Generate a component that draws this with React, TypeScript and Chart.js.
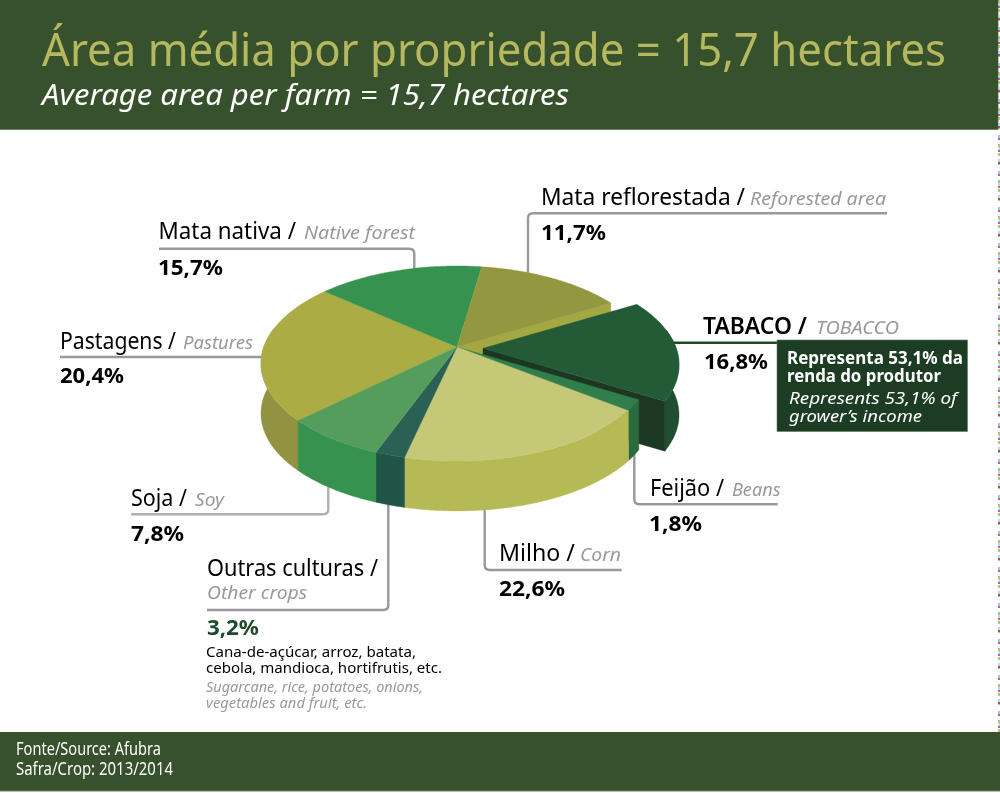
import React, { useEffect, useRef } from "react";
import { Chart, registerables } from "chart.js";

Chart.register(...registerables);

// Slice order, clockwise from the Mata nativa / Mata reflorestada boundary.
const sliceNamesPt = ["Mata reflorestada", "TABACO", "Feijão", "Milho", "Outras culturas", "Soja", "Pastagens", "Mata nativa"];
const sliceNamesEn = ["Reforested area", "TOBACCO", "Beans", "Corn", "Other crops", "Soy", "Pastures", "Native forest"];
// The percentages printed in the reference's labels.
const printedPercents = [11.7, 16.8, 1.8, 22.6, 3.2, 7.8, 20.4, 15.7];
// The source illustration's wedges do not match its printed percentages,
// so wedge sizes are a separate reading, measured from the drawn picture.
const drawnWedgeShares = [14.2, 16.9, 1.8, 18.3, 2.1, 7.2, 23.3, 16.1];
const topColors = ["#929740", "#245b37", "#2f7e4c", "#c4c877", "#2a6154", "#559d5d", "#abac44", "#36934f"];
const sideColors = ["#a4a843", "#1f4e30", "#2a6b3e", "#b6ba55", "#1f5447", "#36934f", "#919340", "#36934f"];
const tobaccoIndex = 1;

const titlePt = "Área média por propriedade = 15,7 hectares";
const titleEn = "Average area per farm = 15,7 hectares";
const boxLines = ["Representa 53,1% da", "renda do produtor", "Represents 53,1% of", "grower’s income"];
const otherCropsPt = ["Cana-de-açúcar, arroz, batata,", "cebola, mandioca, hortifrutis, etc."];
const otherCropsEn = ["Sugarcane, rice, potatoes, onions,", "vegetables and fruit, etc."];
const sourceLines = ["Fonte/Source: Afubra", "Safra/Crop: 2013/2014"];

const FONT = "'Noto Sans', 'Open Sans', sans-serif";
const GREY = "#97999b";
const BAND = "#37512c";
const fmt = (v: number) => v.toFixed(1).replace(".", ",") + "%";

// Perspective projection of the pie's unit circle on to the page.
const P = { ax: 457, ay: 347, a: 193.2, b: 94.7, k: 0.169, depth: 50, exDx: 26, exDy: 1.3 };

function project(theta: number, r: number, dx: number, dy: number, z: number): [number, number] {
  const u = r * Math.sin(theta);
  const v = -r * Math.cos(theta);
  const d = 1 - P.k * v;
  return [P.ax + dx + (P.a * u) / d, P.ay + dy + (P.b * v) / d + z];
}

const pie3d = {
  id: "pie3d",
  beforeDatasetDraw(chart: any) {
    const ctx: CanvasRenderingContext2D = chart.ctx;
    const arcs = chart.getDatasetMeta(0).data;
    const poly = (pts: [number, number][], color: string) => {
      ctx.beginPath();
      pts.forEach(([x, y], i) => (i ? ctx.lineTo(x, y) : ctx.moveTo(x, y)));
      ctx.closePath();
      ctx.fillStyle = color;
      ctx.strokeStyle = color;
      ctx.lineWidth = 0.4;
      ctx.fill();
      ctx.stroke();
    };
    const rim = (s: number, e: number, dx: number, dy: number, z: number) => {
      const n = Math.max(2, Math.ceil((e - s) / 0.01));
      const pts: [number, number][] = [];
      for (let i = 0; i <= n; i++) pts.push(project(s + ((e - s) * i) / n, 1, dx, dy, z));
      return pts;
    };
    const drawSlice = (i: number) => {
      const s = arcs[i].startAngle + Math.PI / 2;
      const e = arcs[i].endAngle + Math.PI / 2;
      const ex = i === tobaccoIndex;
      const dx = ex ? P.exDx : 0;
      const dy = ex ? P.exDy : 0;
      // Outer wall: only the near part of the rim is visible.
      const ws = Math.max(s, Math.PI / 2 - 0.2);
      const we = Math.min(e, (Math.PI * 3) / 2 + 0.2);
      if (we > ws) {
        poly([...rim(ws, we, dx, dy, 0), ...rim(ws, we, dx, dy, P.depth).reverse()], sideColors[i]);
      }
      const apex = project(0, 0, dx, dy, 0);
      if (i === 0) {
        // Cut face left open by the pulled-out tobacco slice.
        const r0 = project(e, 1, 0, 0, 0);
        poly([apex, r0, [r0[0], r0[1] + P.depth], [apex[0], apex[1] + P.depth]], sideColors[0]);
      }
      if (ex) {
        const r1 = project(e, 1, dx, dy, 0);
        poly([apex, r1, [r1[0], r1[1] + P.depth], [apex[0], apex[1] + P.depth]], "#1c3822");
      }
      poly([apex, ...rim(s, e, dx, dy, 0)], topColors[i]);
    };
    // Back slices, then the pulled-out slice, then the front slices over it.
    [6, 7, 0, 1, 2, 3, 4, 5].forEach(drawSlice);
    return false;
  },
};

type TProps = { x: number; y: number; w: number; size: number; text: string; color?: string; bold?: boolean; italic?: boolean; weight?: number };
const T = ({ x, y, w, size, text, color = "#000", bold, italic, weight }: TProps) => (
  <text x={x} y={y} textLength={w} lengthAdjust="spacingAndGlyphs" fontFamily={FONT} fontSize={size}
    fontWeight={weight ?? (bold ? 700 : 400)} fontStyle={italic ? "italic" : "normal"} fill={color}>{text}</text>
);

const Leader = ({ d, color = GREY }: { d: string; color?: string }) => (
  <path d={d} fill="none" stroke={color} strokeWidth={2.4} />
);

export default function App() {
  const ref = useRef<HTMLCanvasElement>(null);
  useEffect(() => {
    const chart = new Chart(ref.current!, {
      type: "pie",
      data: {
        labels: sliceNamesPt,
        datasets: [{ data: drawnWedgeShares, backgroundColor: topColors, borderWidth: 0 }],
      },
      options: {
        animation: false,
        responsive: false,
        rotation: 8.6,
        plugins: { legend: { display: false }, tooltip: { enabled: false } },
      },
      plugins: [pie3d],
    } as any);
    return () => chart.destroy();
  }, []);

  const full: React.CSSProperties = { position: "absolute", left: 0, top: 0 };
  return (
    <div style={{ ...full, width: 1000, height: 793, background: "#fff", overflow: "hidden" }}>
      <svg width={1000} height={793} style={full}>
        <rect x={0} y={0} width={998.3} height={129.5} fill={BAND} />
        <rect x={0} y={129} width={998.3} height={1} fill="#6f8266" />
        <line x1={999} y1={0} x2={999} y2={732} stroke="#8fa84a" strokeWidth={1.4} strokeDasharray="3 6" />
        <line x1={999} y1={3} x2={999} y2={732} stroke="#a9c7e0" strokeWidth={1.4} strokeDasharray="3 9" />
        <line x1={999} y1={6} x2={999} y2={732} stroke="#8a2a66" strokeWidth={1.4} strokeDasharray="2 10" />
        <rect x={0} y={732} width={1000} height={59} fill={BAND} />
        <rect x={0} y={790.5} width={1000} height={1} fill="#6f8266" />
        <Leader d="M887 213.3H533Q528 213.3 528 218.3V275" />
        <Leader d="M159 248.7H409.3Q414.3 248.7 414.3 253.7V272" />
        <Leader d="M60 357H265" />
        <Leader d="M131 514.3H323.3Q328.3 514.3 328.3 509.3V480" color="#aeb0b3" />
        <Leader d="M207 610H383.3Q388.3 610 388.3 605V500" />
        <Leader d="M621.7 570H489.7Q484.7 570 484.7 565V505" />
        <Leader d="M777.7 504.3H639.3Q634.3 504.3 634.3 499.3V450" />
        <Leader d="M670 342.7H780" color="#1f4a2c" />
        <rect x={777} y={340} width={190.5} height={91.5} fill="#1c3d24" stroke="#5f7a66" strokeWidth={0.6} />
      </svg>
      <canvas ref={ref} width={1000} height={793} style={{ ...full, width: 1000, height: 793 }} />
      <svg width={1000} height={793} style={full}>
        <T x={42} y={66} w={904} size={45} text={titlePt} color="#b5b85f" />
        <T x={42} y={105} w={527} size={29} text={titleEn} color="#fff" italic />

        <T x={541} y={205} w={204} size={23} text={sliceNamesPt[0] + " /"} />
        <T x={750} y={205} w={136} size={18.5} text={sliceNamesEn[0]} color={GREY} italic />
        <T x={541} y={240} w={65} size={22} text={fmt(printedPercents[0])} bold />

        <T x={158.5} y={239} w={137.5} size={23} text={sliceNamesPt[7] + " /"} />
        <T x={304} y={239} w={111} size={18.5} text={sliceNamesEn[7]} color={GREY} italic />
        <T x={158} y={275} w={65} size={22} text={fmt(printedPercents[7])} bold />

        <T x={60} y={348.5} w={116} size={23} text={sliceNamesPt[6] + " /"} />
        <T x={183} y={348.5} w={70} size={18.5} text={sliceNamesEn[6]} color={GREY} italic />
        <T x={60} y={383} w={64} size={22} text={fmt(printedPercents[6])} bold />

        <T x={703} y={333.5} w={104} size={23} text={sliceNamesPt[1] + " /"} weight={600} />
        <T x={816} y={333.5} w={83} size={18.5} text={sliceNamesEn[1]} color={GREY} italic />
        <T x={704} y={369} w={64} size={22} text={fmt(printedPercents[1])} bold />

        <T x={787} y={364.3} w={176} size={17} text={boxLines[0]} color="#fff" bold />
        <T x={787} y={382.3} w={154} size={17} text={boxLines[1]} color="#fff" bold />
        <T x={789} y={404} w={168} size={17} text={boxLines[2]} color="#fff" italic />
        <T x={789} y={421.7} w={133} size={17} text={boxLines[3]} color="#fff" italic />

        <T x={650} y={495.5} w={74} size={23} text={sliceNamesPt[2] + " /"} />
        <T x={732} y={495.5} w={48.5} size={18.5} text={sliceNamesEn[2]} color={GREY} italic />
        <T x={649} y={531} w={53} size={22} text={fmt(printedPercents[2])} bold />

        <T x={499} y={561} w={76} size={23} text={sliceNamesPt[3] + " /"} />
        <T x={580} y={561} w={41} size={18.5} text={sliceNamesEn[3]} color={GREY} italic />
        <T x={499} y={596} w={66} size={22} text={fmt(printedPercents[3])} bold />

        <T x={131} y={505.5} w={56} size={23} text={sliceNamesPt[5] + " /"} />
        <T x={195} y={505.5} w={29} size={18.5} text={sliceNamesEn[5]} color={GREY} italic />
        <T x={131} y={541} w={53} size={22} text={fmt(printedPercents[5])} bold />

        <T x={207} y={575.5} w={171} size={23} text={sliceNamesPt[4] + " /"} />
        <T x={207} y={599} w={100} size={18.5} text={sliceNamesEn[4]} color={GREY} italic />
        <T x={207} y={635} w={52} size={22} text={fmt(printedPercents[4])} color="#1f4a2c" bold />
        <T x={206} y={656.7} w={210} size={15} text={otherCropsPt[0]} />
        <T x={206} y={673} w={236} size={15} text={otherCropsPt[1]} />
        <T x={206} y={692} w={217} size={14} text={otherCropsEn[0]} color={GREY} italic />
        <T x={206} y={708} w={161} size={14} text={otherCropsEn[1]} color={GREY} italic />

        <T x={16} y={755} w={145} size={18} text={sourceLines[0]} color="#fff" />
        <T x={16} y={775} w={157} size={18} text={sourceLines[1]} color="#fff" />
      </svg>
    </div>
  );
}
